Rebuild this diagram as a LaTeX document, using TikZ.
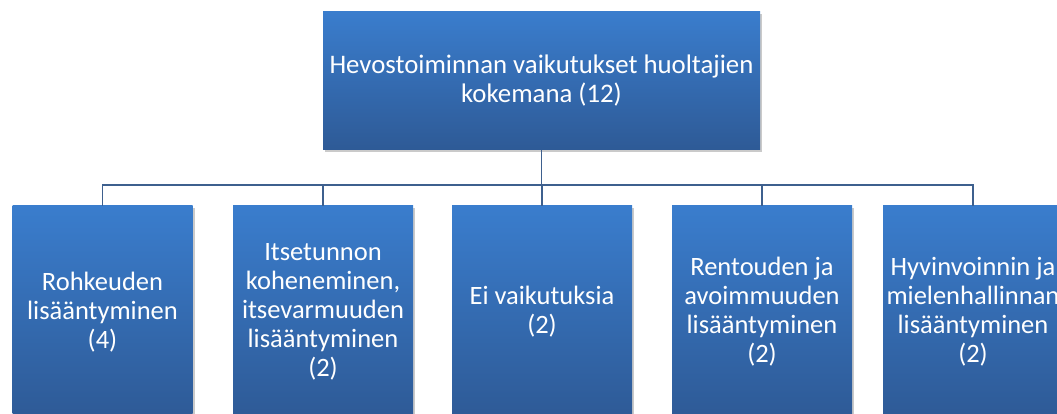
\documentclass[tikz,border=0pt]{standalone}
\usepackage{fontspec}
\setmainfont{Carlito}
\usetikzlibrary{shadows}
\definecolor{boxtop}{RGB}{58,125,205}
\definecolor{boxbottom}{RGB}{46,90,150}
\definecolor{linkcol}{RGB}{62,96,142}
\begin{document}
\begin{tikzpicture}[x=1pt, y=1pt,
  topbox/.style={rectangle, minimum width=437pt, minimum height=138pt, inner sep=0pt,
    top color=boxtop, bottom color=boxbottom, text=white, align=center,
    font=\fontsize{26.8}{29}\selectfont,
    drop shadow={shadow xshift=2pt, shadow yshift=-2pt, opacity=.35, fill=black!60}},
  childbox/.style={topbox, minimum width=180pt, minimum height=212pt,
    font=\fontsize{26.5}{29}\selectfont},
  link/.style={draw=linkcol, line width=1.6pt}]
  \useasboundingbox (0,0) rectangle (1057,414);
  \clip (0,0) rectangle (1057,414);

  \node[topbox] (effects) at (541.5,333) {Hevostoiminnan vaikutukset huoltajien\\kokemana (12)};

  \node[childbox] (courage)    at (102.5,102) {Rohkeuden\\lisääntyminen\\(4)};
  \node[childbox] (selfesteem) at (323,102)   {Itsetunnon\\koheneminen,\\itsevarmuuden\\lisääntyminen\\(2)};
  \node[childbox] (noeffect)   at (542,102)   {Ei vaikutuksia\\(2)};
  \node[childbox] (relax)      at (762,102)   {Rentouden ja\\avoimmuuden\\lisääntyminen\\(2)};
  \node[childbox] (wellbeing)  at (973,102)   {Hyvinvoinnin ja\\mielenhallinnan\\lisääntyminen\\(2)};

  \foreach \child in {courage, selfesteem, noeffect, relax, wellbeing}
    \draw[link] (effects.south) -- ++(0,-35) -| (\child.north);
\end{tikzpicture}
\end{document}
